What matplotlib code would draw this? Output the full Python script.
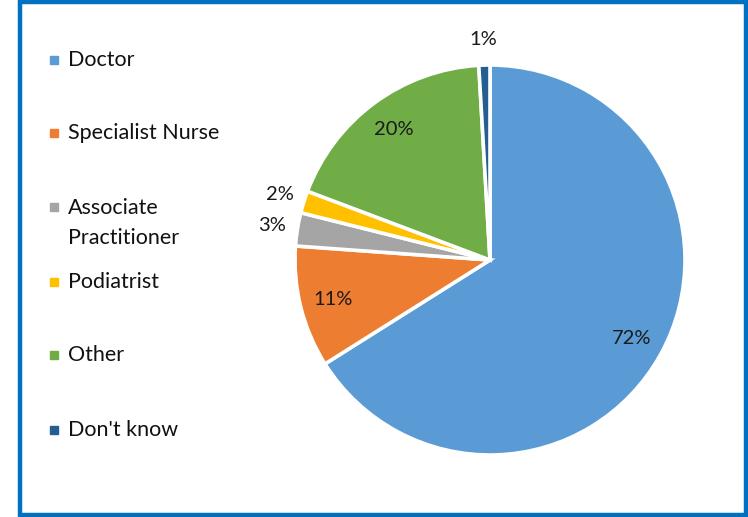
import matplotlib
matplotlib.use('Agg')

import numpy as np
import matplotlib.pyplot as plt
from matplotlib.patches import Rectangle

# data
categories = ["Doctor", "Specialist Nurse", "Associate\nPractitioner",
              "Podiatrist", "Other", "Don't know"]
values = [72, 11, 3, 2, 20, 1]
colors = ["#5B9BD5", "#ED7D31", "#A5A5A5", "#FFC000", "#70AD47", "#255E91"]

plt.rcParams['font.family'] = ['Lato', 'DejaVu Sans']

W, H = 748, 517
fig = plt.figure(figsize=(W / 100, H / 100), dpi=100)

# blue frame
fig.patches.append(Rectangle((20 / W, 2 / H), (W - 22) / W, (H - 4) / H,
                             transform=fig.transFigure, fill=False,
                             edgecolor="#0070C0", linewidth=3.2))

# pie
cx, cy, r = 490, 260, 195
ax = fig.add_axes([(cx - r) / W, (H - cy - r) / H, 2 * r / W, 2 * r / H])
wedges, _ = ax.pie(values, colors=colors, startangle=90, counterclock=False,
                   wedgeprops=dict(edgecolor="white", linewidth=2.6))
ax.set_xlim(-1, 1)
ax.set_ylim(-1, 1)
ax.set_aspect('equal')
ax.axis('off')

# value labels: inside for big slices, outside for small ones
for w, v in zip(wedges, values):
    mid = np.deg2rad((w.theta1 + w.theta2) / 2)
    d = 0.83 if v >= 10 else 1.13
    ax.text(d * np.cos(mid), d * np.sin(mid), f"{v}%", ha="center", va="center",
            fontsize=14.5, color="#1a1a1a")

# legend
ys = [60, 133, 207, 282, 355, 430]
for lab, col, y in zip(categories, colors, ys):
    fig.patches.append(Rectangle((50 / W, (H - y - 4) / H), 8 / W, 8 / H,
                                 transform=fig.transFigure, color=col))
    if "\n" in lab:
        fig.text(68 / W, (H - y + 9) / H, lab, ha="left", va="top",
                 fontsize=15.5, color="#111111", linespacing=1.6)
    else:
        fig.text(68 / W, (H - y) / H, lab, ha="left", va="center",
                 fontsize=15.5, color="#111111")

fig.savefig("out.png", dpi=100)
